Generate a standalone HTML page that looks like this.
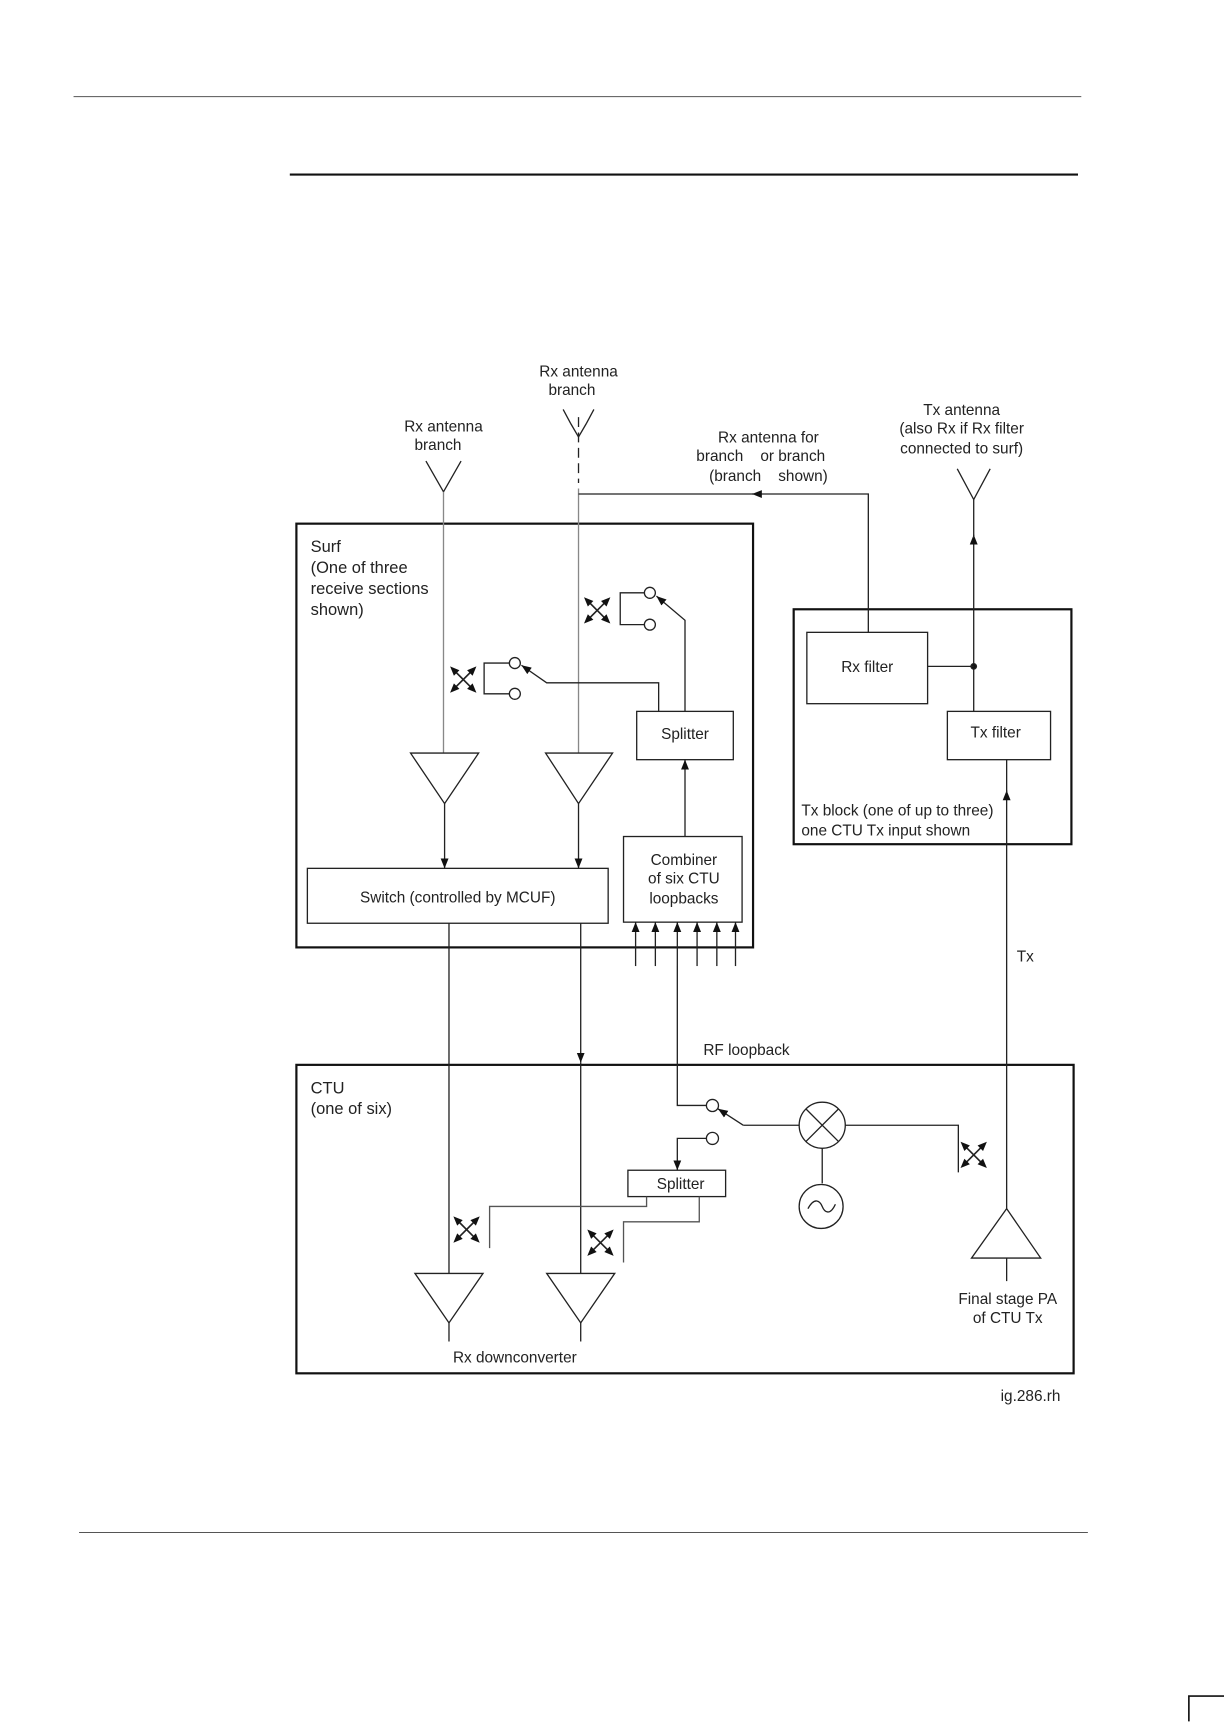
<!DOCTYPE html>
<html><head><meta charset="utf-8"><style>html,body{margin:0;padding:0;background:#fff}svg{display:block}text{white-space:pre}</style></head>
<body>
<svg width="1224" height="1722" viewBox="0 0 1115 1568.6" xmlns="http://www.w3.org/2000/svg" font-family="Liberation Sans, sans-serif" font-size="14" fill="none" stroke="#222" stroke-width="1.2">
<defs>
<marker id="a" viewBox="0 0 10 10" refX="10" refY="5" markerWidth="9" markerHeight="9" markerUnits="userSpaceOnUse" orient="auto"><path d="M0,1 L10,5 L0,9 z" fill="#111" stroke="none"/></marker>
<g id="x">
<line x1="-8" y1="-8" x2="8" y2="8" stroke-width="1.5"/>
<line x1="8" y1="-8" x2="-8" y2="8" stroke-width="1.5"/>
<g fill="#111" stroke="none">
<polygon points="12,12 3.5,8.5 8.5,3.5"/>
<polygon points="-12,-12 -3.5,-8.5 -8.5,-3.5"/>
<polygon points="12,-12 3.5,-8.5 8.5,-3.5"/>
<polygon points="-12,12 -3.5,8.5 -8.5,3.5"/>
</g>
</g>
</defs>
<line x1="67" y1="88" x2="985" y2="88" stroke="#555" stroke-width="1"/>
<line x1="264" y1="159" x2="982" y2="159" stroke="#111" stroke-width="2"/>
<line x1="72" y1="1396" x2="991" y2="1396" stroke="#555" stroke-width="1"/>
<path d="M1083,1568 V1545 H1115" stroke="#111" stroke-width="1.5"/>

<g fill="#222" stroke="none" text-anchor="middle">
<text x="527" y="343">Rx antenna</text><text x="521" y="360">branch</text>
<text x="404" y="393">Rx antenna</text><text x="399" y="410">branch</text>
<text x="700" y="403">Rx antenna for</text><text x="693" y="420">branch    or branch</text><text x="700" y="438">(branch    shown)</text>
<text x="876" y="378">Tx antenna</text><text x="876" y="395">(also Rx if Rx filter</text><text x="876" y="413">connected to surf)</text>
<text x="624" y="673">Splitter</text>
<text x="623" y="788">Combiner</text><text x="623" y="805">of six CTU</text><text x="623" y="823">loopbacks</text>
<text x="417" y="822">Switch (controlled by MCUF)</text>
<text x="790" y="612">Rx filter</text><text x="907" y="672">Tx filter</text>
<text x="934" y="876">Tx</text><text x="680" y="961">RF loopback</text>
<text x="620" y="1083">Splitter</text>
<text x="469" y="1241">Rx downconverter</text>
<text x="918" y="1188">Final stage PA</text><text x="918" y="1205">of CTU Tx</text>
</g>
<g fill="#222" stroke="none" font-size="15">
<text x="283" y="503">Surf</text><text x="283" y="522">(One of three</text><text x="283" y="541">receive sections</text><text x="283" y="560">shown)</text>
<text x="283" y="996">CTU</text><text x="283" y="1015">(one of six)</text>
</g>
<g fill="#222" stroke="none">
<text x="730" y="743">Tx block (one of up to three)</text><text x="730" y="761">one CTU Tx input shown</text>
<text x="966" y="1276" text-anchor="end">ig.286.rh</text>
</g>

<rect x="270" y="477" width="416" height="386" stroke-width="2" stroke="#111"/>
<rect x="270" y="970" width="708" height="281" stroke-width="2" stroke="#111"/>
<rect x="723" y="555" width="253" height="214" stroke-width="2" stroke="#111"/>
<rect x="580" y="648" width="88" height="44"/>
<rect x="568" y="762" width="108" height="78"/>
<rect x="280" y="791" width="274" height="50"/>
<rect x="735" y="576" width="110" height="65"/>
<rect x="863" y="648" width="94" height="44"/>
<rect x="572" y="1066" width="89" height="24"/>

<path d="M388,420 L404,448 L420,420" />
<line x1="404" y1="448" x2="404" y2="686" stroke="#888"/>
<path d="M513,373 L520,386 M541,373 L534,386" />
<line x1="527" y1="380" x2="527" y2="440" stroke-dasharray="9,5"/>
<path d="M520,386 L527,398 L534,386"/>
<line x1="527" y1="445" x2="527" y2="686" stroke="#888"/>
<path d="M872,427 L887,455 L902,427"/>
<line x1="887" y1="648" x2="887" y2="487" marker-end="url(#a)"/>
<line x1="887" y1="490" x2="887" y2="455"/>
<circle cx="887" cy="607" r="2.5" fill="#111"/>
<line x1="845" y1="607" x2="887" y2="607"/>
<path d="M791,576 V450 H685" marker-end="url(#a)"/>
<line x1="688" y1="450" x2="527" y2="450"/>

<use href="#x" x="422" y="619"/>
<use href="#x" x="544" y="556"/>
<circle cx="469" cy="604" r="5"/><circle cx="469" cy="632" r="5"/>
<path d="M464,604 H441 V632 H464"/>
<path d="M600,648 V622 H498 L475,606" marker-end="url(#a)"/>
<circle cx="592" cy="540" r="5"/><circle cx="592" cy="569" r="5"/>
<path d="M587,540 H565 V569 H587"/>
<path d="M624,648 V565 L598,543" marker-end="url(#a)"/>

<path d="M374,686 H436 L405,732 Z"/>
<path d="M497,686 H558 L527,732 Z"/>
<line x1="405" y1="732" x2="405" y2="791" marker-end="url(#a)"/>
<line x1="527" y1="732" x2="527" y2="791" marker-end="url(#a)"/>
<line x1="624" y1="762" x2="624" y2="692" marker-end="url(#a)"/>
<g marker-end="url(#a)">
<line x1="579" y1="880" x2="579" y2="840"/><line x1="597" y1="880" x2="597" y2="840"/>
<line x1="617" y1="880" x2="617" y2="840"/><line x1="635" y1="880" x2="635" y2="840"/>
<line x1="653" y1="880" x2="653" y2="840"/><line x1="670" y1="880" x2="670" y2="840"/>
</g>

<line x1="409" y1="841" x2="409" y2="1160"/>
<line x1="529" y1="841" x2="529" y2="968" marker-end="url(#a)"/>
<line x1="529" y1="968" x2="529" y2="1160"/>

<path d="M617,880 V1007 H643.5"/>
<circle cx="649" cy="1007" r="5.5"/>
<path d="M677,1025 L654,1010" marker-end="url(#a)"/>
<line x1="677" y1="1025" x2="728" y2="1025"/>
<circle cx="749" cy="1025" r="21"/>
<path d="M734,1010 L764,1040 M764,1010 L734,1040"/>
<path d="M770,1025 H873 V1068"/>
<use href="#x" x="887" y="1052"/>
<line x1="749" y1="1046" x2="749" y2="1078"/>
<circle cx="748" cy="1099" r="20"/>
<path d="M736,1101 C742,1090 747,1094 749,1099 C751,1104 756,1108 761,1097"/>
<circle cx="649" cy="1037" r="5.5"/>
<path d="M643.5,1037 H617 V1066" marker-end="url(#a)"/>
<path d="M589,1090 V1099 H446 V1137" stroke="#555"/>
<path d="M637,1090 V1113 H568 V1150" stroke="#555"/>
<use href="#x" x="425" y="1120"/>
<use href="#x" x="547" y="1132"/>
<path d="M378,1160 H440 L409,1205 Z"/><line x1="409" y1="1205" x2="409" y2="1222"/>
<path d="M498,1160 H560 L529,1205 Z"/><line x1="529" y1="1205" x2="529" y2="1222"/>
<path d="M885,1146 H948 L917,1101 Z"/><line x1="917" y1="1146" x2="917" y2="1167"/>
<line x1="917" y1="1101" x2="917" y2="720" marker-end="url(#a)"/>
<line x1="917" y1="722" x2="917" y2="692"/>
</svg>
</body></html>
